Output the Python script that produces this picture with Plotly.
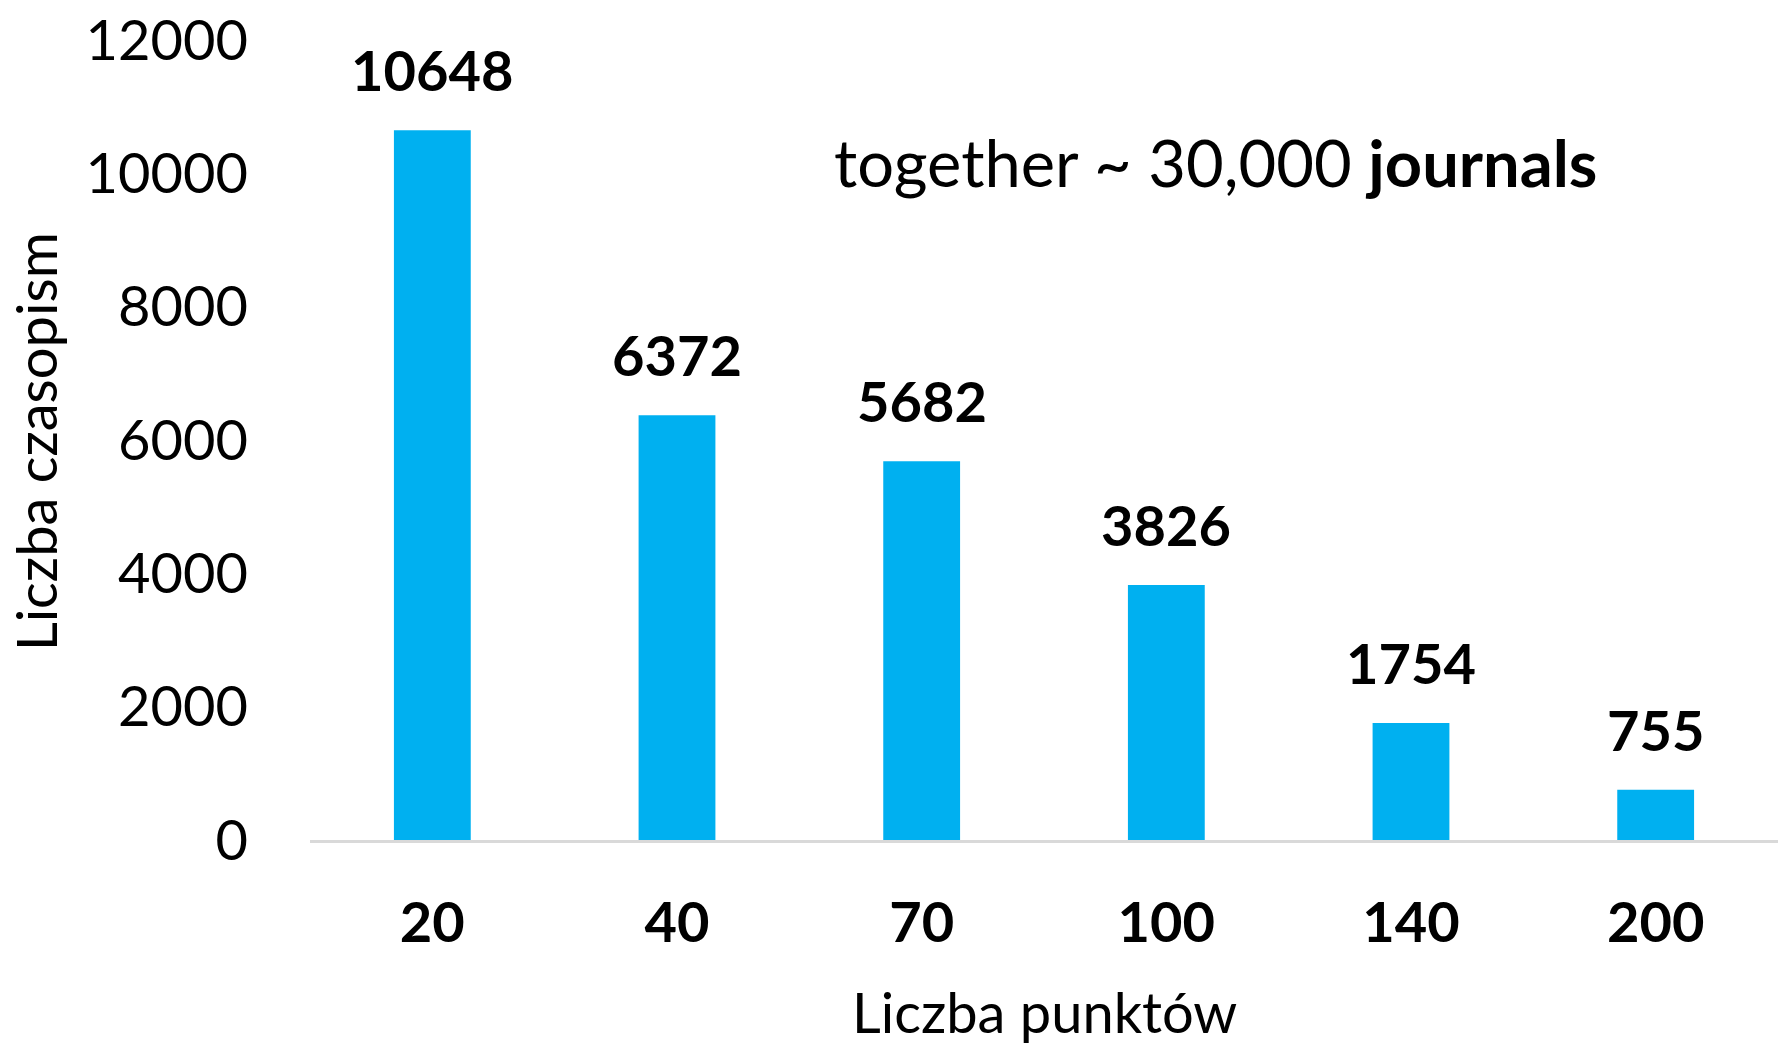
import plotly.graph_objects as go

# liczba punktow i liczba czasopism
punkty = ["20", "40", "70", "100", "140", "200"]
czasopisma = [10648, 6372, 5682, 3826, 1754, 755]
y_ticks = [0, 2000, 4000, 6000, 8000, 10000, 12000]

FONT = "Lato"
BLUE = "#00B0F0"

bars = go.Bar(x=punkty, y=czasopisma, marker=dict(color=BLUE, line=dict(width=0)),
              hoverinfo="x+y")

layout = go.Layout(
    width=1778, height=1045,
    margin=dict(l=310, r=0, t=40, b=205),
    paper_bgcolor="white", plot_bgcolor="white",
    font=dict(family=FONT, size=56, color="black"),
    bargap=0.686,
    showlegend=False,
    xaxis=dict(
        type="category", automargin=False,
        showgrid=False, zeroline=False,
        showline=True, linecolor="#D9D9D9", linewidth=3,
        tickfont=dict(family=FONT, size=56, color="black", weight="bold"),
        ticks="", ticklabelstandoff=32,
    ),
    yaxis=dict(
        range=[0, 12000], tickvals=y_ticks, tickformat="d", automargin=False,
        showgrid=False, zeroline=False, showline=False,
        ticks="", ticklabelstandoff=61,
        tickfont=dict(family=FONT, size=56, color="black"),
    ),
)

fig = go.Figure(data=[bars], layout=layout)

# etykiety wartosci nad slupkami
for i, c in enumerate(czasopisma):
    fig.add_annotation(x=i, y=c, text="<b>%d</b>" % c, showarrow=False,
                       yanchor="bottom", yshift=25,
                       font=dict(family=FONT, size=56, color="black"))

fig.add_annotation(xref="paper", yref="paper", x=0.617, y=0.8475,
                   xanchor="center", yanchor="middle",
                   text="together ~ 30,000 <b>journals</b>", showarrow=False,
                   font=dict(family=FONT, size=65, color="black"))

# tytuly osi
fig.add_annotation(xref="paper", yref="paper", x=0.5, y=-0.214,
                   xanchor="center", yanchor="middle",
                   text="Liczba punktów", showarrow=False,
                   font=dict(family=FONT, size=56, color="black"))
fig.add_annotation(xref="paper", yref="paper", x=-0.1866, y=0.4975,
                   xanchor="center", yanchor="middle", textangle=-90,
                   text="Liczba czasopism", showarrow=False,
                   font=dict(family=FONT, size=56, color="black"))

# bez domyslnego marginesu strony (8px) i bez paska narzedzi
fig.write_html("out.html", config={"displayModeBar": False},
               post_script="document.body.style.margin='0';")
